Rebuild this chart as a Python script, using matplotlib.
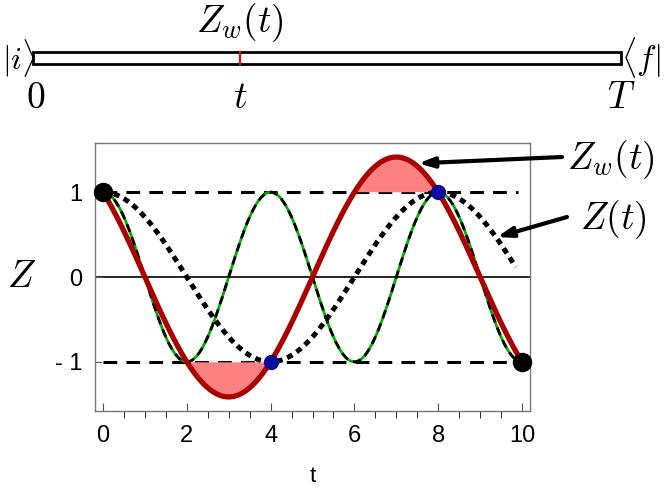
import numpy as np
import matplotlib
matplotlib.use('Agg')
import matplotlib.pyplot as plt
from matplotlib.patches import Rectangle

plt.rcParams['mathtext.fontset'] = 'cm'
plt.rcParams['font.family'] = ['Liberation Sans', 'DejaVu Sans']

# time axis and curve parameters
t_end = 10
t = np.linspace(0, t_end, 801)
t_dot = t[t <= 9.86]
weak_amp = np.sqrt(2)

z_true = np.cos(np.pi * t_dot / 4)                      # Z(t), dotted
z_fast = np.cos(np.pi * t / 2)                          # thin green/black
z_weak = weak_amp * np.cos(np.pi * t / 4 + np.pi / 4)   # Z_w(t), thick red

end_x = [0, 10]
end_y = [1, -1]
mid_x = [4, 8]
mid_y = [-1, 1]

xticks = [0, 2, 4, 6, 8, 10]
yticks = [-1, 0, 1]
ytick_labels = ['- 1', '0', '1']

W, H = 664, 499
fig = plt.figure(figsize=(W / 100, H / 100), dpi=100)

# ---- top timeline bar ----
bx = fig.add_axes([33 / W, 1 - 64 / H, (621 - 33) / W, 12 / H])
bx.set_xlim(0, 10)
bx.set_ylim(0, 1)
bx.axis('off')
bx.add_patch(Rectangle((0, 0), 10, 1, fill=False, edgecolor='black', lw=2, clip_on=False))
t_mark = 10 * (240 - 33) / (621 - 33)
bx.plot([t_mark, t_mark], [0, 1], color='red', lw=1.5, clip_on=False)
fig.text(2 / W, 1 - 58 / H, r'$|i\rangle$', ha='left', va='center', fontsize=23)
bx.text(10.005, 0.5, r'$\langle f|$', ha='left', va='center', fontsize=24)
bx.text(0.05, -1.3, r'$0$', ha='center', va='top', fontsize=27)
bx.text(t_mark, -1.3, r'$t$', ha='center', va='top', fontsize=27)
bx.text(10, -1.3, r'$T$', ha='center', va='top', fontsize=27)
bx.text(t_mark, 1.7, r'$Z_w(t)$', ha='center', va='bottom', fontsize=27)

# ---- main plot ----
ax = fig.add_axes([95 / W, 1 - 411 / H, (530 - 95) / W, (411 - 143) / H])
ax.set_xlim(-0.19, 10.19)
ax.set_ylim(-1.58, 1.58)

ax.axhline(0, color='black', lw=1.2, zorder=1)
ax.plot([0, 9.9], [1, 1], color='black', lw=2.2, dashes=(4.5, 3), zorder=2)
ax.plot([0, 10], [-1, -1], color='black', lw=2.2, dashes=(4.5, 3), zorder=2)

ax.fill_between(t, z_weak, 1, where=z_weak > 1, color='#ff8080', lw=0, zorder=2)
ax.fill_between(t, z_weak, -1, where=z_weak < -1, color='#ff8080', lw=0, zorder=2)

ax.plot(t, z_fast, color='#00b000', lw=2, zorder=3)
ax.plot(t, z_fast, color='black', lw=2, dashes=(3, 2), zorder=3)
ax.plot(t_dot, z_true, color='black', lw=3.6, dashes=(1.2, 1.0), zorder=3)
ax.plot(t, z_weak, color='#aa0000', lw=3.8, zorder=4)

ax.plot(end_x, end_y, 'o', color='black', ms=13, zorder=5, clip_on=False)
ax.plot(mid_x, mid_y, 'o', color='#0a0a9c', ms=10, zorder=5)

for s in ax.spines.values():
    s.set_color('#777777')
    s.set_linewidth(1)
ax.set_xticks(xticks)
ax.set_xticks(np.arange(0, 10.01, 0.5), minor=True)
ax.set_yticks(yticks)
ax.set_yticklabels(ytick_labels)
ax.tick_params(axis='both', direction='in', labelsize=17, color='#555555')
ax.tick_params(axis='x', which='major', length=6, pad=10)
ax.tick_params(axis='x', which='minor', length=5)
ax.tick_params(axis='y', length=5, pad=9)
ax.set_xlabel('t', fontsize=16, labelpad=14)
ax.set_ylabel(r'$Z$', fontsize=27, rotation=0, labelpad=24, va='center')

arrow = dict(arrowstyle='-|>,head_length=0.9,head_width=0.3', color='black', lw=3,
             shrinkA=0, shrinkB=0)
ax.annotate('', xy=(7.52, 1.34), xytext=(562, H - 157), textcoords='figure pixels',
            arrowprops=arrow, annotation_clip=False)
ax.annotate('', xy=(9.4, 0.47), xytext=(567, H - 217), textcoords='figure pixels',
            arrowprops=arrow, annotation_clip=False)
fig.text(611 / W, 1 - 160 / H, r'$Z_w(t)$', ha='center', va='center', fontsize=27)
fig.text(613 / W, 1 - 220 / H, r'$Z(t)$', ha='center', va='center', fontsize=27)

fig.savefig('out.png', dpi=100)
